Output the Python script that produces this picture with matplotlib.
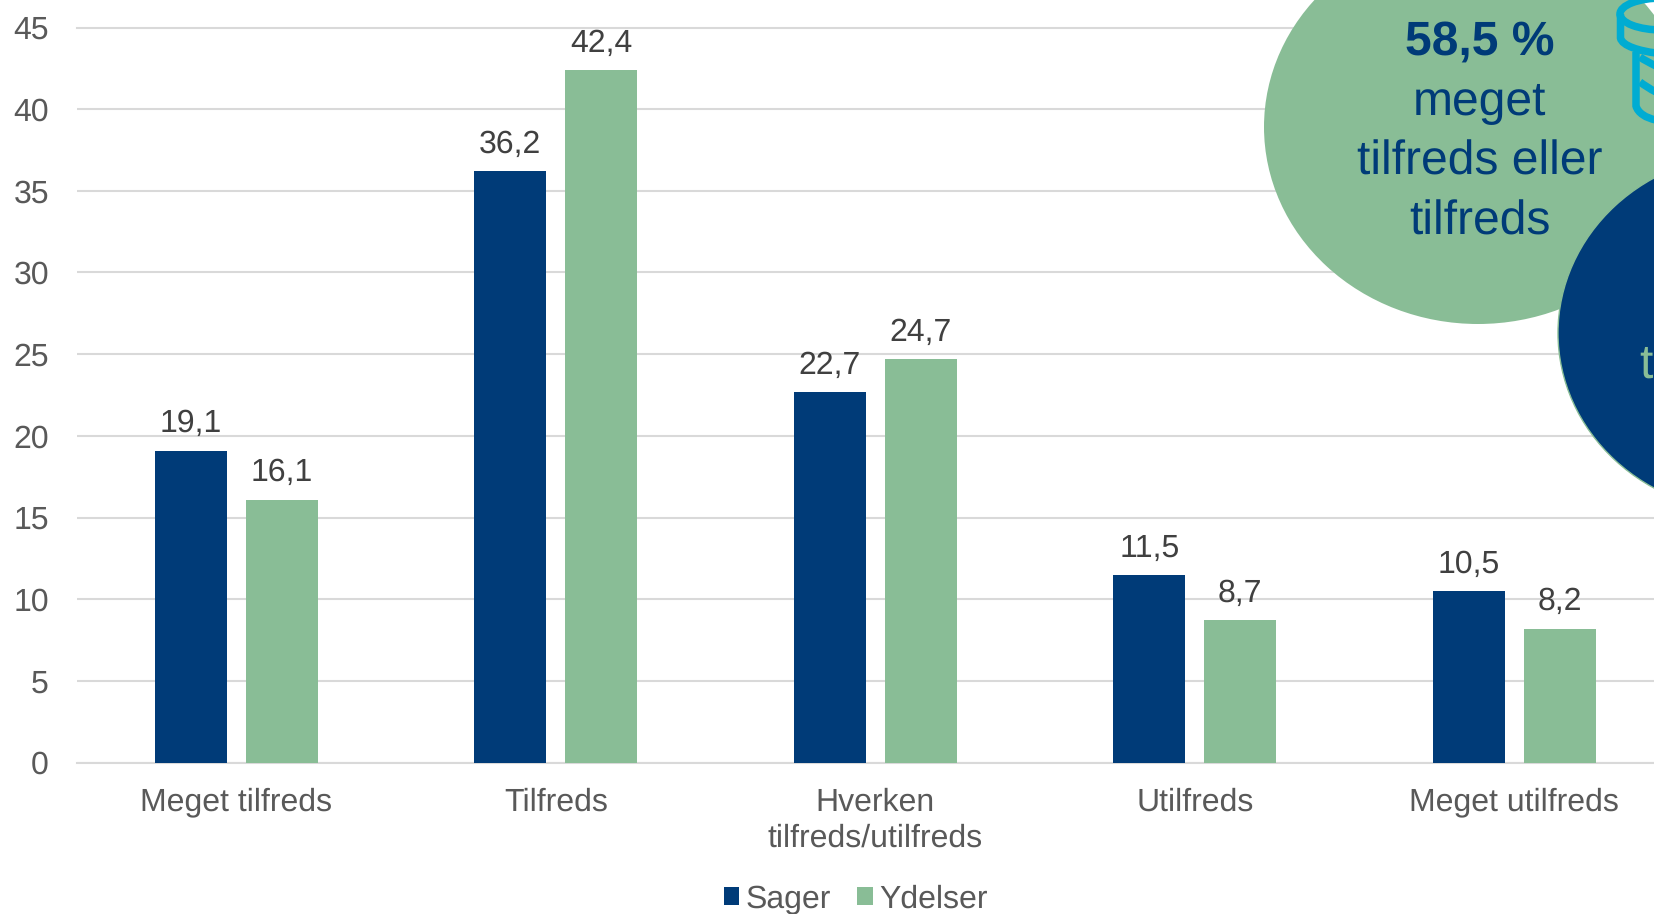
import matplotlib
matplotlib.use("Agg")
import matplotlib.pyplot as plt
from matplotlib.patches import Ellipse, PathPatch, Polygon
from matplotlib.path import Path

categories = ["Meget tilfreds", "Tilfreds", "Hverken\ntilfreds/utilfreds", "Utilfreds", "Meget utilfreds"]
sager = [19.1, 36.2, 22.7, 11.5, 10.5]
ydelser = [16.1, 42.4, 24.7, 8.7, 8.2]
yticks = [0, 5, 10, 15, 20, 25, 30, 35, 40, 45]
bubble_lines = ["58,5 %", "meget", "tilfreds eller", "tilfreds"]

DARK = "#003B78"
GREEN = "#89BD96"
CYAN = "#00ACD2"
GRID = "#D9D9D9"
W, H = 1654, 914
FS = 22.9
BIG = 34.3

plt.rcParams["font.family"] = ["Liberation Sans", "DejaVu Sans"]
plt.rcParams["text.hinting"] = "no_hinting"
plt.rcParams["text.hinting_factor"] = 1
fig = plt.figure(figsize=(W / 100, H / 100), dpi=100, facecolor="white")
left, right, top, bottom = 76.7, 1674, 27.5, 762.5
ax = fig.add_axes([left / W, 1 - bottom / H, (right - left) / W, (bottom - top) / H])

x = list(range(len(categories)))
off, bw = 0.1424, 0.2253
b1 = ax.bar([i - off for i in x], sager, bw, color=DARK, zorder=3, label="Sager")
b2 = ax.bar([i + off for i in x], ydelser, bw, color=GREEN, zorder=3, label="Ydelser")
for bars, vals in ((b1, sager), (b2, ydelser)):
    ax.bar_label(bars, labels=[f"{v:.1f}".replace(".", ",") for v in vals],
                 padding=8.3, fontsize=FS, color="#404040")

ax.set_xlim(-0.5, 4.5)
ax.set_ylim(0, 45)
ax.set_yticks(yticks)
ax.set_xticks(x)
ax.set_xticklabels(categories, fontsize=FS, color="#595959", linespacing=1.27)
ax.tick_params(axis="both", length=0)
ax.tick_params(axis="y", labelsize=FS, labelcolor="#595959", pad=20)
ax.tick_params(axis="x", pad=18)
ax.grid(axis="y", color=GRID, lw=1.5, zorder=0)
ax.set_axisbelow(True)
for s in ("right", "left"):
    ax.spines[s].set_visible(False)
for s in ("top", "bottom"):
    ax.spines[s].set_color(GRID)
    ax.spines[s].set_linewidth(1.5)

fig.legend(handles=[b1, b2], labels=["Sager", "Ydelser"], loc="center", ncol=2, frameon=False,
           bbox_to_anchor=(855.5 / W, 1 - 899 / H), fontsize=FS, labelcolor="#595959",
           handlelength=0.5, handleheight=0.5, handletextpad=0.2, columnspacing=0.8,
           borderpad=0, borderaxespad=0)

# Overlay in pixel coordinates for the call-out bubbles
ov = fig.add_axes([0, 0, 1, 1], facecolor="none")
ov.set_xlim(0, W)
ov.set_ylim(H, 0)
ov.axis("off")
ov.add_patch(Ellipse((1478, 127), 428, 394, color=GREEN, lw=0, zorder=1))

# Coin icon
LW = 5.4
ov.add_patch(Polygon([(1646, 4), (1654, 4), (1654, 13)], color="white", lw=0, zorder=1.5))
ov.add_patch(Ellipse((1662, 14), 84, 32, fill=False, ec=CYAN, lw=LW, zorder=2))
def curve(*pts):
    codes = [Path.MOVETO] + [Path.CURVE4] * (len(pts) - 1)
    ov.add_patch(PathPatch(Path(pts, codes), fill=False, ec=CYAN, lw=LW, zorder=2, capstyle="butt"))
curve((1620.5, 14), (1620.5, 22), (1620.5, 30), (1620.5, 38), (1622, 46), (1640, 51), (1656, 53))
curve((1636, 52), (1636, 70), (1636, 88), (1636, 106), (1638, 113), (1646, 118), (1656, 120))
curve((1640, 57), (1644, 60), (1650, 63), (1656, 66))
curve((1640, 82), (1644, 85), (1650, 89), (1656, 92))

ov.add_patch(Ellipse((1753, 333), 390, 360, fc=DARK, ec=GREEN, lw=1, zorder=3))

for txt, y, w in zip(bubble_lines, (55, 115, 175, 235), ("bold", "normal", "normal", "normal")):
    ov.text(1480, y, txt, ha="center", va="baseline", fontsize=BIG, color=DARK, fontweight=w, zorder=4)
ov.text(1639, 378, "t", ha="left", va="baseline", fontsize=BIG, color=GREEN, zorder=4)

fig.savefig("out.png", dpi=100)
